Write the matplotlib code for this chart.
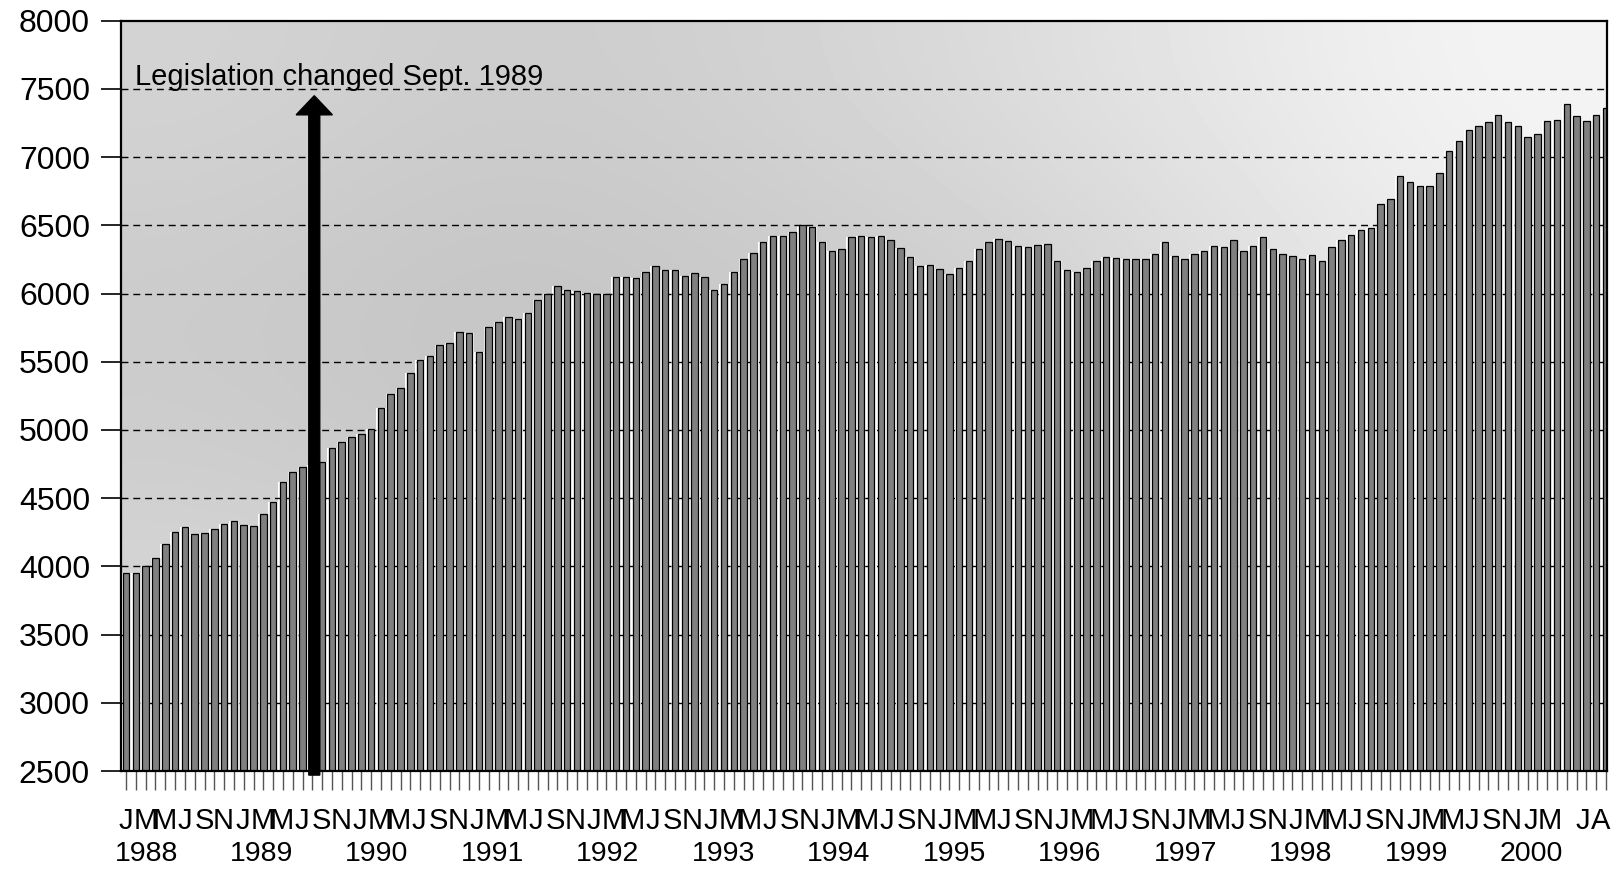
import numpy as np
import matplotlib
matplotlib.use("Agg")
import matplotlib.pyplot as plt

plt.rcParams['font.family'] = ['Liberation Sans', 'DejaVu Sans']

# monthly values, Jan 1988 .. Aug 2000
monthly_values = [
    3955, 3950, 4005, 4060, 4165, 4250, 4285, 4240, 4245, 4275, 4310, 4330,   # 1988
    4300, 4295, 4385, 4470, 4615, 4695, 4725, 4745, 4765, 4865, 4915, 4945,   # 1989
    4970, 5010, 5160, 5265, 5310, 5415, 5515, 5540, 5625, 5635, 5715, 5710,   # 1990
    5570, 5755, 5795, 5830, 5815, 5860, 5950, 6000, 6055, 6025, 6015, 6005,   # 1991
    6000, 6000, 6120, 6120, 6115, 6160, 6200, 6170, 6175, 6130, 6150, 6120,   # 1992
    6025, 6070, 6155, 6250, 6295, 6375, 6420, 6425, 6450, 6500, 6490, 6380,   # 1993
    6310, 6330, 6415, 6420, 6415, 6425, 6390, 6335, 6270, 6205, 6210, 6180,   # 1994
    6145, 6185, 6240, 6325, 6380, 6400, 6385, 6345, 6340, 6355, 6360, 6235,   # 1995
    6170, 6160, 6190, 6235, 6270, 6260, 6250, 6250, 6250, 6290, 6375, 6275,   # 1996
    6255, 6290, 6315, 6350, 6340, 6390, 6310, 6345, 6415, 6325, 6290, 6275,   # 1997
    6255, 6285, 6240, 6340, 6390, 6430, 6465, 6480, 6655, 6695, 6860, 6815,   # 1998
    6785, 6785, 6885, 7045, 7115, 7200, 7225, 7255, 7310, 7260, 7230, 7145,   # 1999
    7170, 7265, 7270, 7390, 7300, 7265, 7310, 7360,                           # 2000
]
year_labels = ['1988', '1989', '1990', '1991', '1992', '1993', '1994',
               '1995', '1996', '1997', '1998', '1999', '2000']
month_letters = ['J', 'M', 'M', 'J', 'S', 'N']
end_letters = ['J', 'A']
annotation = 'Legislation changed Sept. 1989'
arrow_month = 19.2
arrow_top = 7450

W, H = 1622, 871
fig = plt.figure(figsize=(W / 100, H / 100), dpi=100)
ax = fig.add_axes([121 / W, 1 - 771 / H, (1607 - 121) / W, (771 - 20.7) / H])

n = len(monthly_values)
x = np.arange(n)
ymin, ymax = 2500, 8000
ax.set_xlim(-0.52, 151.1)
ax.set_ylim(ymin, ymax)

# mottled grey background of the plot area (lighter towards upper right)
bg = np.array([
    [0.83, 0.80, 0.82, 0.86, 0.91, 0.96],
    [0.79, 0.76, 0.78, 0.80, 0.86, 0.93],
    [0.81, 0.78, 0.80, 0.82, 0.85, 0.90],
    [0.86, 0.85, 0.85, 0.85, 0.85, 0.86],
])
ax.imshow(bg, cmap='gray', vmin=0, vmax=1, aspect='auto', interpolation='bicubic',
          extent=(-0.52, 151.1, ymin, ymax), zorder=0)

# white backing behind the bars, then dashed grid, then the bars
ax.bar(x, np.array(monthly_values) - ymin, bottom=ymin, width=1.0,
       color='white', linewidth=0, zorder=1)
for g in range(3000, 8000, 500):
    ax.axhline(g, color='black', lw=1.0, ls=(0, (5, 3.5)), zorder=2)
ax.bar(x, np.array(monthly_values) - ymin, bottom=ymin, width=0.66,
       color='#808080', edgecolor='black', linewidth=0.9, zorder=3)

for s in ax.spines.values():
    s.set_linewidth(1.6)
    s.set_color('black')
    s.set_zorder(5)

# axes ticks
ax.set_yticks(range(2500, 8001, 500))
ax.tick_params(axis='y', direction='out', length=14.4, width=1.2, pad=8,
               labelsize=23, colors='black')
ax.set_xticks(x)
ax.set_xticklabels([])
ax.tick_params(axis='x', direction='out', length=13.5, width=1.0, color='#555555')

# month letters and years under the axis
shrink = 0.995
for i in range(0, 147, 2):
    letter = month_letters[(i % 12) // 2]
    ax.annotate(letter, xy=(i * shrink, 0), xycoords=('data', 'axes fraction'),
                xytext=(0, -50), textcoords='offset pixels', ha='center', va='center',
                fontsize=21)
for pos, lab in zip([148.6, 150.4], end_letters):
    ax.annotate(lab, xy=(pos, 0), xycoords=('data', 'axes fraction'),
                xytext=(0, -50), textcoords='offset pixels', ha='center', va='center',
                fontsize=21)
for k, yl in enumerate(year_labels):
    ax.annotate(yl, xy=(2.04 + 11.78 * k, 0), xycoords=('data', 'axes fraction'),
                xytext=(0, -83), textcoords='offset pixels', ha='center', va='center',
                fontsize=20.5)

# legislation arrow and note
ax.arrow(arrow_month, 2470, 0, arrow_top - 2470, width=1.12, head_width=3.7,
         head_length=140, length_includes_head=True, fc='black', ec='black',
         clip_on=False, zorder=6)
ax.text(0.9, 7527, annotation, ha='left', va='baseline', fontsize=21, zorder=6)

fig.savefig('out.png', dpi=100)
